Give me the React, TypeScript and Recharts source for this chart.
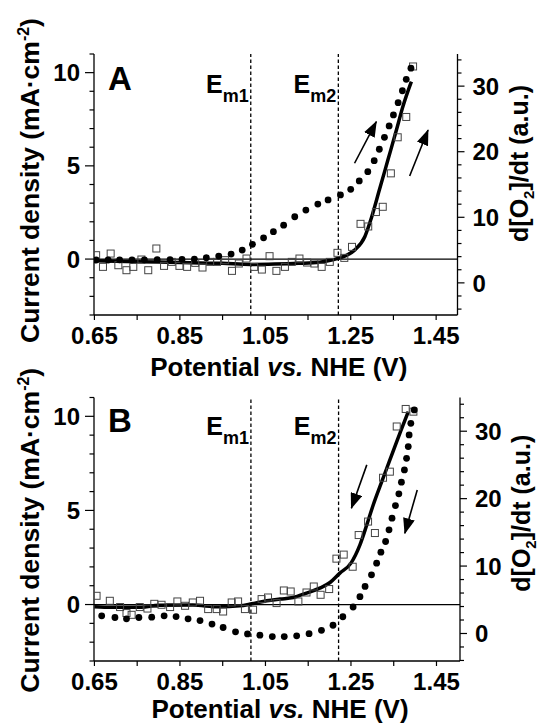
import React from 'react';
import { ComposedChart, XAxis, YAxis, Line, Scatter, ReferenceLine } from 'recharts';

const FONT = "'Liberation Sans', Arial, Helvetica, sans-serif";

// midpoint potentials (V vs. NHE)
const EM1 = 1.016;
const EM2 = 1.221;

const xTicks = [0.65, 0.75, 0.85, 0.95, 1.05, 1.15, 1.25, 1.35, 1.45];
const xLabels = [0.65, 0.85, 1.05, 1.25, 1.45];
const leftTicks = [-3, -2, -1, 0, 1, 2, 3, 4, 5, 6, 7, 8, 9, 10, 11];
const leftLabels = [0, 5, 10];
const rightTicks = [-4, -2, 0, 2, 4, 6, 8, 10, 12, 14, 16, 18, 20, 22, 24, 26, 28, 30, 32, 34];
const rightLabels = [0, 10, 20, 30];

// panel A : [potential, value]
const lineA = [
  [0.65, -0.09], [0.75, -0.14], [0.85, -0.18], [0.95, -0.23], [1.016, -0.29], [1.072, -0.27],
  [1.128, -0.23], [1.177, -0.17], [1.2, -0.08], [1.22, 0.04], [1.24, 0.2], [1.259, 0.48],
  [1.283, 1.2], [1.298, 2.18], [1.317, 3.7], [1.337, 5.31], [1.357, 6.92], [1.372, 8.17], [1.392, 9.52],
];
const dotsA = [
  [0.654, -0.05], [0.682, -0.05], [0.709, -0.04], [0.738, -0.04], [0.767, -0.04], [0.797, -0.03],
  [0.827, -0.03], [0.855, -0.02], [0.884, 0.0], [0.912, 0.07], [0.941, 0.16], [0.97, 0.27],
  [0.996, 0.48], [1.02, 0.79], [1.046, 1.14], [1.069, 1.47], [1.093, 1.82], [1.119, 2.27],
  [1.145, 2.63], [1.173, 2.95], [1.197, 3.17], [1.226, 3.44], [1.25, 3.74], [1.27, 4.19],
  [1.29, 4.69], [1.305, 5.28], [1.317, 5.89], [1.329, 6.53], [1.34, 7.14], [1.35, 7.73],
  [1.361, 8.39], [1.371, 9.03], [1.38, 9.64], [1.391, 10.24],
];
const squaresA = [
  [0.654, 4.22], [0.67, 2.44], [0.688, 4.47], [0.706, 2.69], [0.725, 1.93], [0.741, 2.44],
  [0.76, 3.56], [0.776, 1.93], [0.795, 5.24], [0.813, 2.59], [0.831, 3.2], [0.849, 2.59],
  [0.867, 2.44], [0.886, 3.05], [0.903, 2.34], [0.921, 3.2], [0.937, 3.2], [0.956, 3.46],
  [0.972, 1.83], [0.988, 2.95], [1.006, 3.71], [1.024, 2.44], [1.042, 2.03], [1.06, 4.07],
  [1.076, 1.83], [1.096, 2.44], [1.112, 3.2], [1.13, 3.71], [1.148, 3.1], [1.165, 2.95],
  [1.182, 2.44], [1.201, 3.2], [1.219, 4.58], [1.235, 3.81], [1.253, 5.49], [1.273, 9.0],
  [1.291, 8.6], [1.309, 10.8], [1.325, 11.6], [1.344, 16.7], [1.36, 22.2], [1.38, 25.3], [1.396, 33.0],
];
const arrowsA = [
  [1.259, 5.14, 1.31, 7.37],
  [1.388, 4.46, 1.431, 6.92],
];

// panel B
const lineB = [
  [0.65, -0.12], [0.69, -0.15], [0.76, -0.14], [0.8, -0.04], [0.88, -0.03], [0.94, -0.12],
  [0.99, -0.07], [1.018, 0.04], [1.053, 0.2], [1.084, 0.29], [1.115, 0.37], [1.146, 0.61],
  [1.177, 0.87], [1.201, 1.17], [1.224, 1.67], [1.25, 2.2], [1.271, 3.17], [1.287, 4.23],
  [1.302, 5.29], [1.322, 6.53], [1.341, 7.68], [1.357, 8.66], [1.372, 9.54], [1.384, 10.25],
];
const dotsB = [
  [0.667, -0.6], [0.698, -0.69], [0.725, -0.76], [0.754, -0.69], [0.784, -0.67], [0.813, -0.6],
  [0.841, -0.64], [0.869, -0.76], [0.897, -0.85], [0.925, -1.04], [0.951, -1.22], [0.98, -1.45],
  [1.008, -1.56], [1.037, -1.63], [1.066, -1.7], [1.094, -1.7], [1.123, -1.66], [1.152, -1.55],
  [1.181, -1.37], [1.208, -1.1], [1.231, -0.65], [1.255, -0.13], [1.271, 0.42], [1.283, 0.96],
  [1.298, 1.58], [1.31, 2.2], [1.32, 2.78], [1.331, 3.35], [1.339, 3.97], [1.346, 4.59],
  [1.354, 5.26], [1.362, 5.88], [1.368, 6.5], [1.375, 7.15], [1.38, 7.77], [1.384, 8.39],
  [1.386, 9.01], [1.39, 9.63], [1.398, 10.34],
];
const squaresB = [
  [0.655, 5.59], [0.686, 4.85], [0.71, 3.92], [0.725, 3.03], [0.737, 2.77], [0.756, 3.92],
  [0.774, 3.7], [0.79, 4.4], [0.807, 4.26], [0.827, 3.92], [0.844, 4.75], [0.862, 4.11],
  [0.88, 4.6], [0.897, 4.85], [0.916, 3.62], [0.936, 3.62], [0.951, 3.26], [0.971, 4.6],
  [0.986, 4.75], [1.002, 3.62], [1.021, 3.52], [1.041, 5.1], [1.056, 5.34], [1.076, 4.51],
  [1.093, 6.38], [1.109, 6.23], [1.127, 4.75], [1.146, 6.08], [1.163, 6.97], [1.179, 5.74],
  [1.199, 6.59], [1.216, 11.1], [1.233, 11.7], [1.254, 9.9], [1.268, 14.6], [1.29, 16.6],
  [1.306, 14.9], [1.325, 23.1], [1.341, 24.0], [1.357, 30.7], [1.378, 33.3], [1.396, 32.9],
];
const arrowsB = [
  [1.287, 7.42, 1.251, 5.12],
  [1.405, 6.09, 1.376, 3.79],
];

const pts = (arr: number[][]) => arr.map(([x, y]) => ({ x, y }));
const has = (list: number[], v: number) => list.some((l) => Math.abs(l - v) < 1e-6);

const txt = { fontFamily: FONT, fontWeight: 700, fill: '#000' } as const;

const XTick = (props: any) => {
  const { x, y, payload } = props;
  const major = has(xLabels, payload.value);
  return (
    <g>
      <line x1={x} x2={x} y1={y} y2={y + 5} stroke="#000" strokeWidth={1.2} />
      {major && (
        <text x={x} y={y + 29} textAnchor="middle" fontSize={24} {...txt}>
          {payload.value.toFixed(2)}
        </text>
      )}
    </g>
  );
};

const LeftTick = (props: any) => {
  const { x, y, payload } = props;
  const major = has(leftLabels, payload.value);
  return (
    <g>
      <line x1={x} x2={x - (major ? 9 : 4.5)} y1={y} y2={y} stroke="#000" strokeWidth={1.2} />
      {major && (
        <text x={x - 14} y={y} dy="0.36em" textAnchor="end" fontSize={24} {...txt}>
          {payload.value}
        </text>
      )}
    </g>
  );
};

const RightTick = (props: any) => {
  const { x, y, payload } = props;
  const major = has(rightLabels, payload.value);
  return (
    <g>
      <line x1={x} x2={x + (major ? 7 : 4)} y1={y} y2={y} stroke="#000" strokeWidth={1.2} />
      {major && (
        <text x={x + 15} y={y} dy="0.36em" textAnchor="start" fontSize={24} {...txt}>
          {payload.value}
        </text>
      )}
    </g>
  );
};

const square = (p: any) => (
  <rect x={p.cx - 3.5} y={p.cy - 3.5} width={7} height={7} fill="none" stroke="#444" strokeWidth={1} />
);
const dot = (p: any) => <circle cx={p.cx} cy={p.cy} r={3.4} fill="#000" />;

const emLabel = (sub: string, dyTop: number) => (props: any) => {
  const vb = props.viewBox || {};
  return (
    <text x={vb.x - 2} y={vb.y + dyTop} textAnchor="end" {...txt}>
      <tspan fontSize={25}>E</tspan>
      <tspan fontSize={18} dy={9}>{sub}</tspan>
    </text>
  );
};

const letterLabel = (letter: string, dyTop: number) => (props: any) => {
  const vb = props.viewBox || {};
  return (
    <text x={vb.x + 14} y={vb.y + dyTop} fontSize={33} {...txt}>
      {letter}
    </text>
  );
};

interface PanelProps {
  letter: string;
  line: number[][];
  dots: number[][];
  squares: number[][];
  arrows: number[][];
  xMax: number;
  rightDomain: [number, number];
  height: number;
  top: number;
  xAxisHeight: number;
  rightWidth: number;
  textTop: number;
  xTitleOffset: number;
  leftTitleShift: number;
  rightTitleShift: number;
}

function Panel(p: PanelProps) {
  const xDomain: [number, number] = [0.649, p.xMax];
  return (
    <ComposedChart width={539} height={p.height} margin={{ top: p.top, right: 0, bottom: 0, left: 0 }}>
      <XAxis
        xAxisId="top"
        orientation="top"
        type="number"
        dataKey="x"
        domain={xDomain}
        allowDataOverflow
        height={0}
        tick={false}
        tickLine={false}
        axisLine={{ stroke: '#000', strokeWidth: 1.3 }}
      />
      <XAxis
        type="number"
        dataKey="x"
        domain={xDomain}
        allowDataOverflow
        ticks={xTicks}
        interval={0}
        tickSize={0}
        tickMargin={0}
        tickLine={false}
        tick={<XTick />}
        height={p.xAxisHeight}
        axisLine={{ stroke: '#000', strokeWidth: 1.3 }}
        label={{
          content: (lp: any) => (
            <text
              x={lp.viewBox.x + lp.viewBox.width / 2 + 3}
              y={lp.viewBox.y + p.xTitleOffset}
              textAnchor="middle"
              fontSize={26}
              {...txt}
            >
              Potential <tspan fontStyle="italic">vs.</tspan> NHE (V)
            </text>
          ),
        }}
      />
      <YAxis
        yAxisId="left"
        type="number"
        width={94}
        domain={[-3, 11]}
        allowDataOverflow
        ticks={leftTicks}
        interval={0}
        tickSize={0}
        tickMargin={0}
        tickLine={false}
        tick={<LeftTick />}
        axisLine={{ stroke: '#000', strokeWidth: 1.3 }}
        label={{
          content: (lp: any) => {
            const vb = lp.viewBox;
            const cx = vb.x + 39;
            const cy = vb.y + vb.height / 2 + p.leftTitleShift;
            return (
              <text x={cx} y={cy} transform={`rotate(-90, ${cx}, ${cy})`} textAnchor="middle" fontSize={26.5} {...txt}>
                Current density (mA·cm
                <tspan fontSize={16} dy={-10}>-2</tspan>
                <tspan dy={10}>)</tspan>
              </text>
            );
          },
        }}
      />
      <YAxis
        yAxisId="right"
        orientation="right"
        type="number"
        width={p.rightWidth}
        domain={p.rightDomain}
        allowDataOverflow
        ticks={rightTicks}
        interval={0}
        tickSize={0}
        tickMargin={0}
        tickLine={false}
        tick={<RightTick />}
        axisLine={{ stroke: '#000', strokeWidth: 1.3 }}
        label={{
          content: (lp: any) => {
            const vb = lp.viewBox;
            const cx = vb.x + 70;
            const cy = vb.y + vb.height / 2 + p.rightTitleShift;
            return (
              <text x={cx} y={cy} transform={`rotate(-90, ${cx}, ${cy})`} textAnchor="middle" fontSize={25} {...txt}>
                d[O
                <tspan fontSize={15} dy={6}>2</tspan>
                <tspan dy={-6}>]/dt (a.u.)</tspan>
              </text>
            );
          },
        }}
      />
      <ReferenceLine yAxisId="left" y={0} stroke="#000" strokeWidth={1.2} />
      <ReferenceLine
        yAxisId="left"
        x={xDomain[0]}
        stroke="none"
        label={{ content: letterLabel(p.letter, p.textTop + 2) }}
      />
      <ReferenceLine
        yAxisId="left"
        x={EM1}
        stroke="#000"
        strokeWidth={1.3}
        strokeDasharray="3.5 2.5"
        label={{ content: emLabel('m1', p.textTop + 5) }}
      />
      <ReferenceLine
        yAxisId="left"
        x={EM2}
        stroke="#000"
        strokeWidth={1.3}
        strokeDasharray="3.5 2.5"
        label={{ content: emLabel('m2', p.textTop + 5) }}
      />
      <Scatter yAxisId="right" data={pts(p.squares)} dataKey="y" shape={square} isAnimationActive={false} />
      <Line
        yAxisId="left"
        data={pts(p.line)}
        dataKey="y"
        type="monotone"
        stroke="#000"
        strokeWidth={3.5}
        dot={false}
        activeDot={false}
        isAnimationActive={false}
      />
      <Scatter yAxisId="left" data={pts(p.dots)} dataKey="y" shape={dot} isAnimationActive={false} />
      {p.arrows.map((a, i) => (
        <ReferenceLine
          key={i}
          yAxisId="left"
          segment={[{ x: a[0], y: a[1] }, { x: a[2], y: a[3] }]}
          stroke="#000"
          strokeWidth={1.6}
          markerEnd="url(#arrowHead)"
        />
      ))}
    </ComposedChart>
  );
}

export default function App() {
  return (
    <div style={{ position: 'absolute', left: 0, top: 0, width: 539, height: 726, background: '#fff' }}>
      <svg width={0} height={0} style={{ position: 'absolute' }}>
        <defs>
          <marker id="arrowHead" markerWidth={16} markerHeight={12} refX={15} refY={6} orient="auto" markerUnits="userSpaceOnUse">
            <path d="M0,0 L16,6 L0,12 z" fill="#000" />
          </marker>
        </defs>
      </svg>
      <div style={{ position: 'absolute', left: 0, top: 0 }}>
        <Panel
          letter="A"
          line={lineA}
          dots={dotsA}
          squares={squaresA}
          arrows={arrowsA}
          xMax={1.5}
          rightDomain={[-4.9, 34.9]}
          height={390}
          top={54}
          xAxisHeight={75}
          rightWidth={81.5}
          textTop={34}
          xTitleOffset={61}
          leftTitleShift={-4}
          rightTitleShift={-21}
        />
      </div>
      <div style={{ position: 'absolute', left: 0, top: 363 }}>
        <Panel
          letter="B"
          line={lineB}
          dots={dotsB}
          squares={squaresB}
          arrows={arrowsB}
          xMax={1.505}
          rightDomain={[-4.08, 35.0]}
          height={363}
          top={34.5}
          xAxisHeight={65}
          rightWidth={79}
          textTop={32}
          xTitleOffset={57}
          leftTitleShift={1}
          rightTitleShift={-16}
        />
      </div>
    </div>
  );
}
